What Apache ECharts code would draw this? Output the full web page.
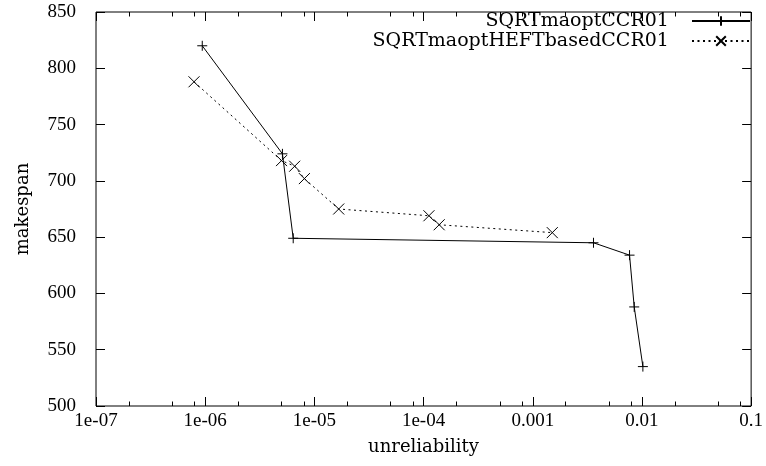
<!DOCTYPE html>
<html><head><meta charset="utf-8">
<script src="https://cdn.jsdelivr.net/npm/echarts@6/dist/echarts.min.js"></script>
<style>html,body{margin:0;padding:0;background:#fff}#c{width:766px;height:466px}</style>
</head><body><div id="c"></div>
<script>
const seriesNames = ['SQRTmaoptCCR01', 'SQRTmaoptHEFTbasedCCR01'];
const ccrX = [9.4e-7, 5.1e-6, 6.4e-6, 3.6e-3, 7.7e-3, 8.5e-3, 1.02e-2];
const ccrY = [820, 724, 649, 645, 634, 588, 535];
const heftX = [7.9e-7, 5.0e-6, 6.6e-6, 8.1e-6, 1.67e-5, 1.12e-4, 1.39e-4, 1.51e-3];
const heftY = [788, 718, 713, 702, 675, 669, 661, 654];
const xTickValues = [1e-7, 1e-6, 1e-5, 1e-4, 1e-3, 1e-2, 1e-1];
const xTickLabels = ['1e-07', '1e-06', '1e-05', '1e-04', '0.001', '0.01', '0.1'];
const xMinorMantissas = [2, 5, 8];
const yTickLabels = [500, 550, 600, 650, 700, 750, 800, 850];
const xTitle = 'unreliability';
const yTitle = 'makespan';

const FONT = 'Liberation Serif';
const TFONT = 'DejaVu Serif';
const xMinorValues = [];
xTickValues.slice(0, -1).forEach(d => xMinorMantissas.forEach(m => xMinorValues.push(+(d * m).toPrecision(3))));

const xBase = {
  type: 'log', logBase: 10, min: xTickValues[0], max: xTickValues[xTickValues.length - 1],
  splitLine: { show: false }, axisLine: { show: false }
};
function xAxisDef(pos, values, len, labels) {
  return Object.assign({}, xBase, {
    position: pos,
    name: labels ? xTitle : '',
    nameLocation: 'middle', nameGap: 32,
    nameTextStyle: { fontFamily: TFONT, fontSize: 18, color: '#000' },
    axisTick: { show: true, inside: true, length: len, lineStyle: { color: '#000', width: 1 }, customValues: values },
    axisLabel: labels ? {
      show: true, customValues: xTickValues, margin: 6,
      fontFamily: FONT, fontSize: 19, color: '#000',
      formatter: v => { const i = xTickValues.findIndex(t => Math.abs(Math.log10(t) - Math.log10(v)) < 1e-6); return i >= 0 ? xTickLabels[i] : ''; }
    } : { show: false }
  });
}

const chart = echarts.init(document.getElementById('c'), null, { renderer: 'canvas' });
const plusPath = 'path://M5,0L5,10M0,5L10,5';
const crossPath = 'path://M0,0L10,10M10,0L0,10';

chart.setOption({
  animation: false,
  backgroundColor: '#fff',
  grid: { left: 96, right: 10, top: 12, bottom: 60, show: true, borderColor: '#000', borderWidth: 1, backgroundColor: 'transparent' },
  legend: {
    orient: 'vertical', align: 'right', right: 15, top: 11, itemGap: 0, padding: 0,
    itemWidth: 58, itemHeight: 12,
    textStyle: { fontFamily: TFONT, fontSize: 19, color: '#000', lineHeight: 20 },
    formatter: n => n + '   ',
    data: seriesNames
  },
  xAxis: [
    xAxisDef('bottom', xTickValues, 9, true),
    xAxisDef('bottom', xMinorValues, 4.5, false),
    xAxisDef('top', xTickValues, 9, false),
    xAxisDef('top', xMinorValues, 4.5, false)
  ],
  yAxis: [
    {
      type: 'value', min: yTickLabels[0], max: yTickLabels[yTickLabels.length - 1], interval: 50, position: 'left',
      name: yTitle, nameLocation: 'middle', nameGap: 64,
      nameTextStyle: { fontFamily: TFONT, fontSize: 18, color: '#000' },
      splitLine: { show: false }, axisLine: { show: false },
      axisTick: { show: true, inside: true, length: 9, lineStyle: { color: '#000' } },
      axisLabel: { fontFamily: FONT, fontSize: 19, color: '#000', margin: 20 }
    },
    {
      type: 'value', min: yTickLabels[0], max: yTickLabels[yTickLabels.length - 1], interval: 50, position: 'right',
      splitLine: { show: false }, axisLine: { show: false },
      axisTick: { show: true, inside: true, length: 9, lineStyle: { color: '#000' } },
      axisLabel: { show: false }
    }
  ],
  series: [
    {
      name: seriesNames[0], type: 'line', xAxisIndex: 0, yAxisIndex: 0,
      data: ccrX.map((x, i) => [x, ccrY[i]]),
      symbol: plusPath, symbolSize: 10, showSymbol: true,
      lineStyle: { color: '#000', width: 1, type: 'solid' },
      itemStyle: { color: '#000', borderColor: '#000', borderWidth: 1 },
      emphasis: { disabled: true }
    },
    {
      name: seriesNames[1], type: 'line', xAxisIndex: 0, yAxisIndex: 0,
      data: heftX.map((x, i) => [x, heftY[i]]),
      symbol: crossPath, symbolSize: 11, showSymbol: true,
      lineStyle: { color: '#000', width: 1, type: [2, 3.5] },
      itemStyle: { color: '#000', borderColor: '#000', borderWidth: 1 },
      emphasis: { disabled: true }
    }
  ]
});
</script>
</body></html>
